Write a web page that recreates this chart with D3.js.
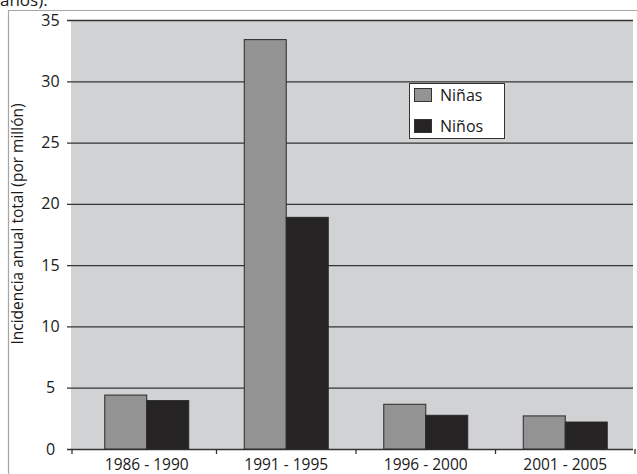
<!DOCTYPE html>
<html><head><meta charset="utf-8">
<script src="https://cdn.jsdelivr.net/npm/d3@7"></script>
<style>
body{margin:0;background:#fff}
svg{display:block}
text{font-family:"Open Sans",sans-serif;fill:#1a1a1a}
</style>
</head><body><svg id="c" width="637" height="474"></svg>
<script>
const categories = ["1986 - 1990", "1991 - 1995", "1996 - 2000", "2001 - 2005"];
const seriesNames = ["Niñas", "Niños"];
const ninas = [4.4, 33.4, 3.65, 2.7];
const ninos = [3.95, 18.9, 2.75, 2.2];
const yTicks = [0, 5, 10, 15, 20, 25, 30, 35];
const yTitle = "Incidencia anual total (por millón)";
const topText = "años).";

const colors = {"Niñas": "#939393", "Niños": "#252324"};
const svg = d3.select("#c");

// top caption (partly cut by the top edge, as in the reference)
svg.append("text").attr("x", 0).attr("y", 6).attr("font-size", 17).text(topText);

// outer frame
svg.append("path").attr("d", "M8.5,480 V10.5 H640").attr("fill", "none")
  .attr("stroke", "#a6a6a6").attr("stroke-width", 1.2);

const plot = {left: 71, right: 633, top: 20, bottom: 449};
const y = d3.scaleLinear().domain([0, 35]).range([plot.bottom, plot.top]);
const x = d3.scaleBand().domain(categories).range([77, 635]);
const x1 = d3.scaleBand().domain(seriesNames).range([0, 84]);
const off = (x.bandwidth() - 84) / 2;

svg.append("rect").attr("x", plot.left).attr("y", plot.top)
  .attr("width", plot.right - plot.left).attr("height", plot.bottom - plot.top)
  .attr("fill", "#d1d2d4");

// gridlines + y labels
const yAxis = svg.append("g").attr("transform", "translate(67,0)")
  .call(d3.axisLeft(y).tickValues(yTicks).tickSize(-(plot.right - 67)).tickFormat(d3.format("d")));
yAxis.select(".domain").remove();
yAxis.selectAll(".tick line").attr("stroke", "#333").attr("stroke-width", 1.3);
yAxis.selectAll(".tick text").attr("x", -16.5).attr("text-anchor", "middle")
  .attr("font-size", 16).attr("font-family", "Open Sans").attr("fill", "#1a1a1a");

// x ticks & labels
const bounds = [72].concat(categories.map(c => x(c) + x.bandwidth()));
svg.append("g").selectAll("line").data(bounds).join("line")
  .attr("x1", d => d).attr("x2", d => d).attr("y1", plot.bottom).attr("y2", plot.bottom + 5)
  .attr("stroke", "#333").attr("stroke-width", 1.3);
svg.append("g").selectAll("text").data(categories).join("text")
  .attr("x", d => x(d) + x.bandwidth() / 2).attr("y", 470)
  .attr("text-anchor", "middle").attr("font-size", 15.5).text(d => d);

// bars
const rows = categories.map((c, i) => ({c, vals: [{s: "Niñas", v: ninas[i]}, {s: "Niños", v: ninos[i]}]}));
const grp = svg.append("g").selectAll("g").data(rows).join("g")
  .attr("transform", d => `translate(${x(d.c) + off},0)`);
grp.selectAll("rect").data(d => d.vals).join("rect")
  .attr("x", d => x1(d.s)).attr("width", x1.bandwidth())
  .attr("y", d => y(d.v)).attr("height", d => y(0) - y(d.v))
  .attr("fill", d => colors[d.s]).attr("stroke", "#2a2a2a").attr("stroke-width", 1);

// y title
svg.append("text").attr("transform", "translate(23,224) rotate(-90)")
  .attr("text-anchor", "middle").attr("font-size", 15.5).text(yTitle);

// legend
const lg = svg.append("g");
lg.append("rect").attr("x", 409.5).attr("y", 83.5).attr("width", 95).attr("height", 55)
  .attr("fill", "#ffffff").attr("stroke", "#333").attr("stroke-width", 1);
const items = lg.selectAll("g").data(seriesNames).join("g")
  .attr("transform", (d, i) => `translate(414,${88 + i * 31})`);
items.append("rect").attr("x", 0.5).attr("y", 0.5).attr("width", 17).attr("height", 13)
  .attr("fill", d => colors[d]).attr("stroke", "#333").attr("stroke-width", 1);
items.append("text").attr("x", 26).attr("y", 12.5).attr("font-size", 16).text(d => d);
</script>
</body></html>
